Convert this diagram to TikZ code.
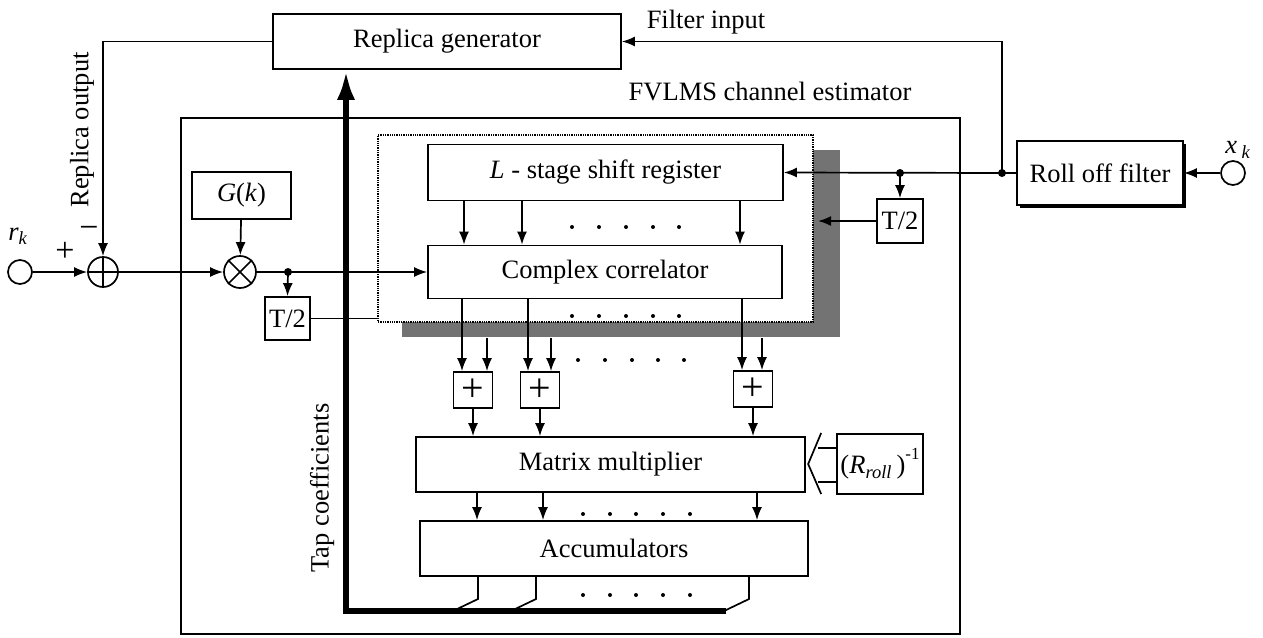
\documentclass[tikz,border=0pt]{standalone}
\usepackage{fontspec}
\setmainfont{Liberation Serif}
\usetikzlibrary{arrows.meta, shadows}

\begin{document}
\begin{tikzpicture}[
    x=1pt, y=-1pt,
    line width=1.7pt,
    font=\fontsize{26.5}{31}\selectfont,
    block/.style={draw, rectangle, fill=white, align=center, inner sep=0pt},
    adder/.style={draw, rectangle, fill=white, minimum width=39pt, minimum height=36pt, inner sep=0pt},
    port/.style={draw, circle, inner sep=0pt, minimum size=24pt},
    junction/.style={circle, fill, inner sep=0pt, minimum size=8pt},
    arrow/.style={-{Latex[length=13pt,width=10pt]}},
    bus/.style={line width=6pt, -{Latex[length=30pt,width=18pt]}}
]
\useasboundingbox (0,0) rectangle (1263,637);

% Estimator frame and stacked sheets
\node[draw, rectangle, line width=1.4pt, minimum width=779pt, minimum height=516pt] (fvlms) at (570.5,376) {};
\node[rectangle, fill=black!55, minimum width=438pt, minimum height=187pt] (back) at (621,243.5) {};
\node[draw, densely dotted, line width=1.3pt, fill=white, minimum width=435pt, minimum height=187pt] (front) at (595.5,228.5) {};

% Blocks
\node[block, minimum width=348pt, minimum height=55pt] (repl) at (447,41.5) {Replica generator};
\node[block, minimum width=355pt, minimum height=56pt] (sreg) at (605.5,172.5) {\textit{L} - stage shift register};
\node[block, minimum width=354pt, minimum height=53pt] (corr) at (605,272) {Complex correlator};
\node[block, minimum width=99pt, minimum height=47pt] (gk) at (241.5,195.5) {\textit{G}(\textit{k})};
\node[block, minimum width=45pt, minimum height=43pt] (tda) at (287.5,318.5) {T/2};
\node[block, minimum width=46pt, minimum height=44pt] (tdb) at (900,221) {T/2};
\node[adder] (adda) at (473,390) {\fontsize{40}{40}\selectfont +};
\node[adder] (addb) at (540,390) {\fontsize{40}{40}\selectfont +};
\node[adder] (addc) at (753,389) {\fontsize{40}{40}\selectfont +};
\node[block, minimum width=389pt, minimum height=55pt] (matm) at (610.5,464.5) {Matrix multiplier};
\node[block, minimum width=388pt, minimum height=55pt] (accu) at (614,548.5) {Accumulators};
\node[block, minimum width=86pt, minimum height=60pt] (rinv) at (880,464) {(\textit{R}\textsubscript{\textit{roll}}\,)\raisebox{14pt}{\fontsize{17}{17}\selectfont -1}};
\node[block, minimum width=166pt, minimum height=64pt,
      drop shadow={shadow xshift=3pt, shadow yshift=-3pt, opacity=1, fill=black}] (roll) at (1100,173) {Roll off filter};

% Summing and mixing points
\node[port] (rin) at (20,272) {};
\node[port] (xin) at (1233,173) {};
\node[draw, circle, minimum size=30pt, inner sep=0pt] (sum) at (103,272) {};
\node[draw, circle, minimum size=32pt, inner sep=0pt] (mul) at (240,272) {};
\draw (sum.north) -- (sum.south) (sum.west) -- (sum.east);
\draw (mul.north west) -- (mul.south east) (mul.north east) -- (mul.south west);

% Junctions
\node[junction] (ja) at (288,272) {};
\node[junction] (jb) at (1002,173) {};
\node[junction] (jc) at (900,173) {};
\coordinate (bk) at (818,221);

% Labels
\node (rk) at (18,236) {\textit{r}\textsubscript{\textit{k}}};
\node (xk) at (1238,150) {\textit{x}\,\textsubscript{\textit{k}}};
\node (plus) at (65,252) {\fontsize{34}{34}\selectfont +};
\node (minus) at (89,232) {\fontsize{34}{34}\selectfont −};
\node[rotate=90] (rout) at (82,130) {Replica output};
\node[rotate=90] (tap) at (322,488) {Tap coefficients};
\node (fin) at (706,22) {Filter input};
\node (title) at (770,92) {FVLMS channel estimator};

% Signal path
\draw[arrow] (rin) -- (sum);
\draw[arrow] (repl.west) -| (sum.north);
\draw[arrow] (sum) -- (mul);
\draw[arrow] (gk) -- (mul);
\draw[arrow] (mul.east) -- (corr.west);
\draw[arrow] (ja.center) -- (tda.north);
\draw (tda.east) -- (tda.east -| front.west);
\draw[arrow] (xin) -- (roll);
\draw (roll.west) -- (jb.center);
\draw[arrow] (jb.center) |- (repl.east);
\draw[arrow] (jb.center) -- (sreg.east);
\draw[arrow] (jc.center) -- (tdb.north);
\draw[arrow] (tdb.west) -- (bk);

% Register taps and correlator outputs
\foreach \x in {464,522,740}
  \draw[arrow] (\x,0 |- sreg.south) -- (\x,0 |- corr.north);
\foreach \x/\a in {462/adda,528/addb,742/addc}
  \draw[arrow] (\x,0 |- corr.south) -- (\x,0 |- \a.north);
\foreach \x/\a in {487/adda,551/addb,762/addc}
  \draw[arrow] (\x,0 |- back.south) -- (\x,0 |- \a.north);
\foreach \a in {adda,addb,addc}
  \draw[arrow] (\a.south) -- (\a.south |- matm.north);
\foreach \x in {477,543,757}
  \draw[arrow] (\x,0 |- matm.south) -- (\x,0 |- accu.north);

% Inverse matrix input
\draw (rinv.west) ++(0,-16) -- ++(-18,0);
\draw (rinv.west) ++(0,18) -- ++(-18,0);
\draw (rinv.west) ++(-15,-31) -- ++(-13,31) -- ++(13,30);

% Tap coefficient bus
\foreach \x in {478,536,749}
  \draw (\x,0 |- accu.south) -- (\x,599) -- (\x-25,611);
\coordinate (busend) at (726,611);
\coordinate (buscorner) at (346,611);
\draw[bus] (busend) -- (buscorner) -- (buscorner |- repl.south);

% Dots
\foreach \x in {572,599,626,653,679} {
  \fill (\x,227) circle (2pt);
  \fill (\x,316) circle (2pt);
}
\foreach \x in {578,605,632,658,684}
  \fill (\x,360) circle (2pt);
\foreach \x in {583,610,636,663,690} {
  \fill (\x,514) circle (2pt);
  \fill (\x,595) circle (2pt);
}

\end{tikzpicture}
\end{document}
